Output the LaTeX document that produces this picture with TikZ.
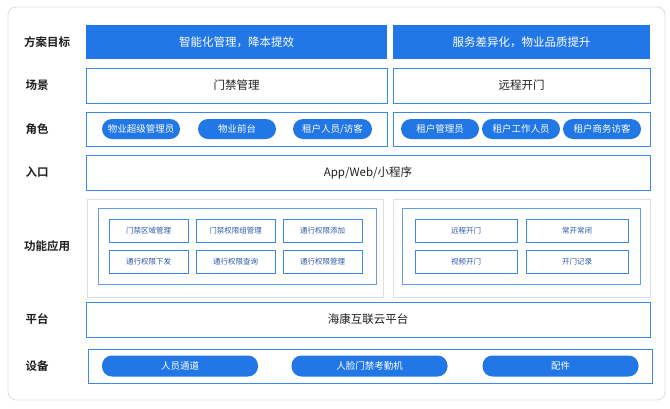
\documentclass[tikz,border=0pt]{standalone}
\usepackage{fontspec}
\setmainfont{Noto Sans CJK SC}[BoldFont={* Bold}]
\usepackage{tikz}
\usetikzlibrary{positioning,shadows}
\definecolor{Accent}{HTML}{2277E6}
\definecolor{Edge}{HTML}{3B87EA}
\definecolor{Glow}{HTML}{BFD6F5}
\definecolor{Frame}{HTML}{DEDFE2}
\definecolor{Ink}{HTML}{1F1F1F}
\definecolor{SmallInk}{HTML}{2B58A8}
\tikzset{
  rowlabel/.style={font=\fontsize{11.5}{13}\selectfont\bfseries,text=Ink,anchor=center},
  goal/.style={fill=Accent,draw=none,text=white,font=\fontsize{11.5}{13}\selectfont,minimum height=34pt,inner sep=0pt},
  box/.style={draw=Edge,fill=white,line width=.9pt,text=Ink,font=\fontsize{11.5}{13}\selectfont,inner sep=0pt,
    drop shadow={shadow xshift=1.2pt,shadow yshift=-1.2pt,fill=Glow,opacity=.8}},
  pill/.style={fill=Accent,draw=none,rounded corners=10pt,text=white,font=\fontsize{9.5}{11}\selectfont,inner sep=0pt,minimum height=20pt},
  panel/.style={draw=Frame,fill=white,line width=.8pt,inner sep=0pt,
    drop shadow={shadow xshift=1.2pt,shadow yshift=-1.2pt,fill=Frame,opacity=.9}},
  inner/.style={draw=Edge!80,fill=white,line width=.9pt,inner sep=0pt},
  feat/.style={draw=Edge,fill=white,line width=.9pt,text=SmallInk,font=\fontsize{7.5}{9}\selectfont,inner sep=0pt,minimum height=23pt}
}
\begin{document}
\begin{tikzpicture}[x=1pt,y=-1pt]
  \useasboundingbox (0,0) rectangle (670,408);
  \draw[Frame,line width=.9pt,rounded corners=8pt] (8,7) rectangle (665,400);

  % row labels
  \node[rowlabel] (lgoal) at (47,42) {方案目标};
  \node[rowlabel] (lscene) at (37,85.5) {场景};
  \node[rowlabel] (lrole) at (37,129) {角色};
  \node[rowlabel] (lentry) at (37,172.5) {入口};
  \node[rowlabel] (lfunc) at (47,246) {功能应用};
  \node[rowlabel] (lplat) at (37,319.5) {平台};
  \node[rowlabel] (ldev) at (37,366) {设备};

  % goals
  \node[goal,minimum width=301pt] (goalA) at (236.5,42) {智能化管理，降本提效};
  \node[goal,minimum width=257pt] (goalB) at (521.5,42) {服务差异化，物业品质提升};

  % scenes
  \node[box,minimum width=301pt,minimum height=35pt] (sceneA) at (236.5,85.5) {门禁管理};
  \node[box,minimum width=257pt,minimum height=35pt] (sceneB) at (521.5,85.5) {远程开门};

  % roles
  \node[box,minimum width=301pt,minimum height=34pt] (roleA) at (236.5,129) {};
  \node[box,minimum width=257pt,minimum height=34pt] (roleB) at (521.5,129) {};
  \node[pill,minimum width=78pt] (superadmin) at (141,129) {物业超级管理员};
  \node[pill,minimum width=78pt] (frontdesk) at (237,129) {物业前台};
  \node[pill,minimum width=79pt] (tenantvisit) at (332.5,129) {租户人员/访客};
  \node[pill,minimum width=78pt] (tenantadmin) at (440,129) {租户管理员};
  \node[pill,minimum width=78pt] (tenantstaff) at (521,129) {租户工作人员};
  \node[pill,minimum width=78pt] (tenantguest) at (602,129) {租户商务访客};

  % entry
  \node[box,minimum width=564pt,minimum height=35pt] (entry) at (368,172.5) {App/Web/小程序};

  % functions
  \node[panel,minimum width=296pt,minimum height=98pt] (funcA) at (235,248) {};
  \node[panel,minimum width=257pt,minimum height=98pt] (funcB) at (521.5,248) {};
  \node[inner,minimum width=278pt,minimum height=76pt] (innerA) at (237,246) {};
  \node[inner,minimum width=238pt,minimum height=76pt] (innerB) at (521,246) {};
  \node[feat,minimum width=79pt] (zone) at (148.5,230.5) {门禁区域管理};
  \node[feat,minimum width=79pt] (group) at (235.5,230.5) {门禁权限组管理};
  \node[feat,minimum width=79pt] (add) at (322.5,230.5) {通行权限添加};
  \node[feat,minimum width=79pt] (push) at (148.5,262) {通行权限下发};
  \node[feat,minimum width=79pt] (query) at (235.5,262) {通行权限查询};
  \node[feat,minimum width=79pt] (manage) at (322.5,262) {通行权限管理};
  \node[feat,minimum width=102pt] (remote) at (466,230.5) {远程开门};
  \node[feat,minimum width=102pt] (always) at (577,230.5) {常开常闭};
  \node[feat,minimum width=102pt] (video) at (466,262) {视频开门};
  \node[feat,minimum width=102pt] (record) at (577,262) {开门记录};

  % platform
  \node[box,minimum width=564pt,minimum height=35pt] (plat) at (368,319.5) {海康互联云平台};

  % devices
  \node[box,minimum width=564pt,minimum height=34pt] (dev) at (370,366) {};
  \node[pill,minimum width=156pt,minimum height=21pt] (gate) at (180,366) {人员通道};
  \node[pill,minimum width=156pt,minimum height=21pt] (face) at (369.5,366) {人脸门禁考勤机};
  \node[pill,minimum width=156pt,minimum height=21pt] (parts) at (560.5,366) {配件};
\end{tikzpicture}
\end{document}
